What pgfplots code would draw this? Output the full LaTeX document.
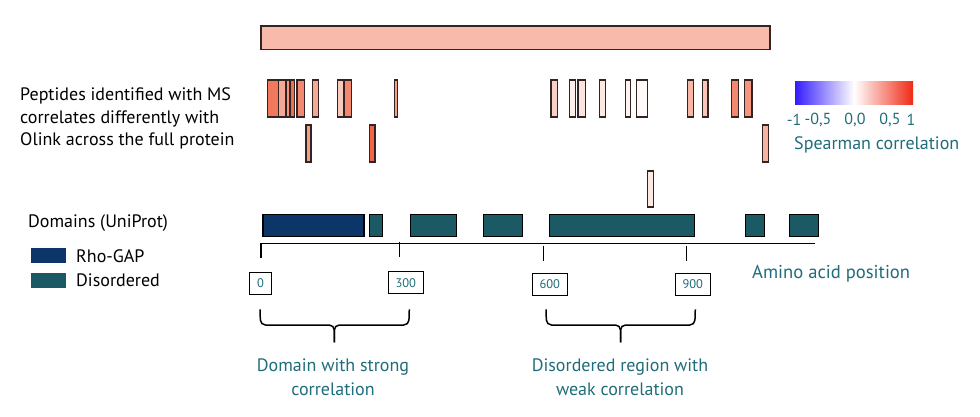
\documentclass[border=0pt]{standalone}
\usepackage{fontspec}
\setmainfont{PT Sans}
\usepackage{pgfplots}
\pgfplotsset{compat=1.18}
\definecolor{teal1}{RGB}{31,108,122}
\definecolor{cr}{RGB}{236,62,22}
\definecolor{cbr}{RGB}{240,42,20}
\definecolor{cbb}{RGB}{52,28,255}
\definecolor{navy}{RGB}{12,54,103}
\definecolor{dis}{RGB}{27,89,101}
\definecolor{edge}{RGB}{50,36,34}
\newcommand\pep[5]{\addplot[fill=cr!#5!white, draw=edge, line width=1.1pt] coordinates {(#1,#3) (#2,#3) (#2,#4) (#1,#4)} -- cycle;}
\newcommand\dom[3]{\addplot[fill=#3, draw=black, line width=1.1pt] coordinates {(#1,214.3) (#2,214.3) (#2,236.7) (#1,236.7)} -- cycle;}
\newcommand\segm[4]{\addplot[black, line width=1.3pt] coordinates {(#1,#2) (#3,#4)};}
\begin{document}
\begin{tikzpicture}
\begin{axis}[width=980pt,height=416pt,scale only axis,
  xmin=0,xmax=980,ymin=0,ymax=416,y dir=reverse,
  hide axis, clip=false]
\addplot[draw=none] coordinates {(0,0) (980,416)};
% full protein bar
\pep{261}{770}{26}{49.4}{36}
% row 1
\pep{267.3}{278.3}{80}{117}{70}
\pep{278.3}{286}{80}{117}{45}
\pep{286}{290}{80}{117}{55}
\pep{290}{294.3}{80}{117}{75}
\pep{297}{304.3}{80}{117}{62}
\pep{312.7}{318.3}{80}{117}{45}
\pep{337.7}{343.3}{80}{117}{28}
\pep{344}{351.7}{80}{117}{62}
\pep{394.3}{397.3}{80}{117}{50}
\pep{551}{557.3}{80}{117}{25}
\pep{569.3}{575.7}{80}{117}{8}
\pep{578}{585.3}{80}{117}{14}
\pep{599.3}{605.3}{80}{117}{12}
\pep{625.3}{630.7}{80}{117}{6}
\pep{636.3}{647.3}{80}{117}{2}
\pep{687.7}{693.3}{80}{117}{38}
\pep{702.7}{708}{80}{117}{30}
\pep{731.3}{738.3}{80}{117}{62}
\pep{744.3}{752}{80}{117}{55}
% row 2
\pep{306}{311}{125}{162}{50}
\pep{369.3}{375}{125}{162}{80}
\pep{762.7}{768.3}{125}{162}{40}
% row 3
\pep{647.3}{653.7}{171}{207}{12}
% domains
\dom{263}{364}{navy}
\dom{369.3}{382.7}{dis}
\dom{410.3}{456.7}{dis}
\dom{483.3}{522.7}{dis}
\dom{549.3}{694.3}{dis}
\dom{745.7}{764.3}{dis}
\dom{789.3}{818.3}{dis}
% position axis
\segm{260.5}{243.3}{815}{243.3}
\segm{261}{243.3}{261}{258.3}
\segm{399.3}{241.7}{399.3}{257.3}
\segm{543.3}{245.7}{543.3}{260.7}
\segm{686.3}{245.7}{686.3}{260.7}
% legend swatches
\addplot[fill=navy, draw=none] coordinates {(31,248.3) (66,248.3) (66,263.3) (31,263.3)} -- cycle;
\addplot[fill=dis, draw=none] coordinates {(31,273.3) (66,273.3) (66,288.3) (31,288.3)} -- cycle;
% colorbar
\addplot[draw=none, left color=cbb, right color=cbr, middle color=white] coordinates {(795,81) (913,81) (913,104.3) (795,104.3)} -- cycle;
% braces
\addplot[black, line width=1.5pt, rounded corners=5pt] coordinates {(260,309.3) (260.5,325) (334.3,325) (334.3,342.3)};
\addplot[black, line width=1.5pt, rounded corners=5pt] coordinates {(409.3,309.3) (408.8,325) (334.3,325) (334.3,342.3)};
\addplot[black, line width=1.5pt, rounded corners=5pt] coordinates {(546,309.3) (546.5,325) (620.5,325) (620.5,342.3)};
\addplot[black, line width=1.5pt, rounded corners=5pt] coordinates {(695.3,309.3) (694.8,325) (620.5,325) (620.5,342.3)};
% texts
\begin{scope}[every node/.style={font=\fontsize{18}{21}\selectfont, inner sep=0pt}]
\node[anchor=west] at (axis cs:20,96) {Peptides identified with MS};
\node[anchor=west] at (axis cs:20,118.5) {correlates differently with};
\node[anchor=west] at (axis cs:20,141) {Olink across the full protein};
\node[anchor=west] at (axis cs:28,223) {Domains (UniProt)};
\node[anchor=west] at (axis cs:76,256) {Rho-GAP};
\node[anchor=west] at (axis cs:76,280) {Disordered};
\node[anchor=west, text=teal1] at (axis cs:752,274) {\fontsize{18.6}{21}\selectfont Amino acid position};
\node[anchor=west, text=teal1] at (axis cs:794,145) {Spearman correlation};
\node[text=teal1] at (axis cs:333,367) {Domain with strong};
\node[text=teal1] at (axis cs:333,389) {correlation};
\node[text=teal1] at (axis cs:620,367) {Disordered region with};
\node[text=teal1] at (axis cs:620,389) {weak correlation};
\end{scope}
\begin{scope}[every node/.style={font=\fontsize{16}{19}\selectfont, inner sep=0pt, text=teal1}]
\node at (axis cs:794,120) {-1};
\node at (axis cs:818,120) {-0,5};
\node at (axis cs:855,120) {0,0};
\node at (axis cs:890,120) {0,5};
\node at (axis cs:911,120) {1};
\end{scope}
\begin{scope}[every node/.style={draw=black, line width=0.9pt, minimum height=22pt, inner sep=0pt, text=teal1, font=\fontsize{12.5}{14}\selectfont}]
\node[minimum width=22.4pt] at (axis cs:260.5,283) {0};
\node[minimum width=35pt] at (axis cs:405.8,282.7) {300};
\node[minimum width=35pt] at (axis cs:549.8,284.3) {600};
\node[minimum width=35pt] at (axis cs:692.8,284.3) {900};
\end{scope}
\end{axis}
\end{tikzpicture}
\end{document}
